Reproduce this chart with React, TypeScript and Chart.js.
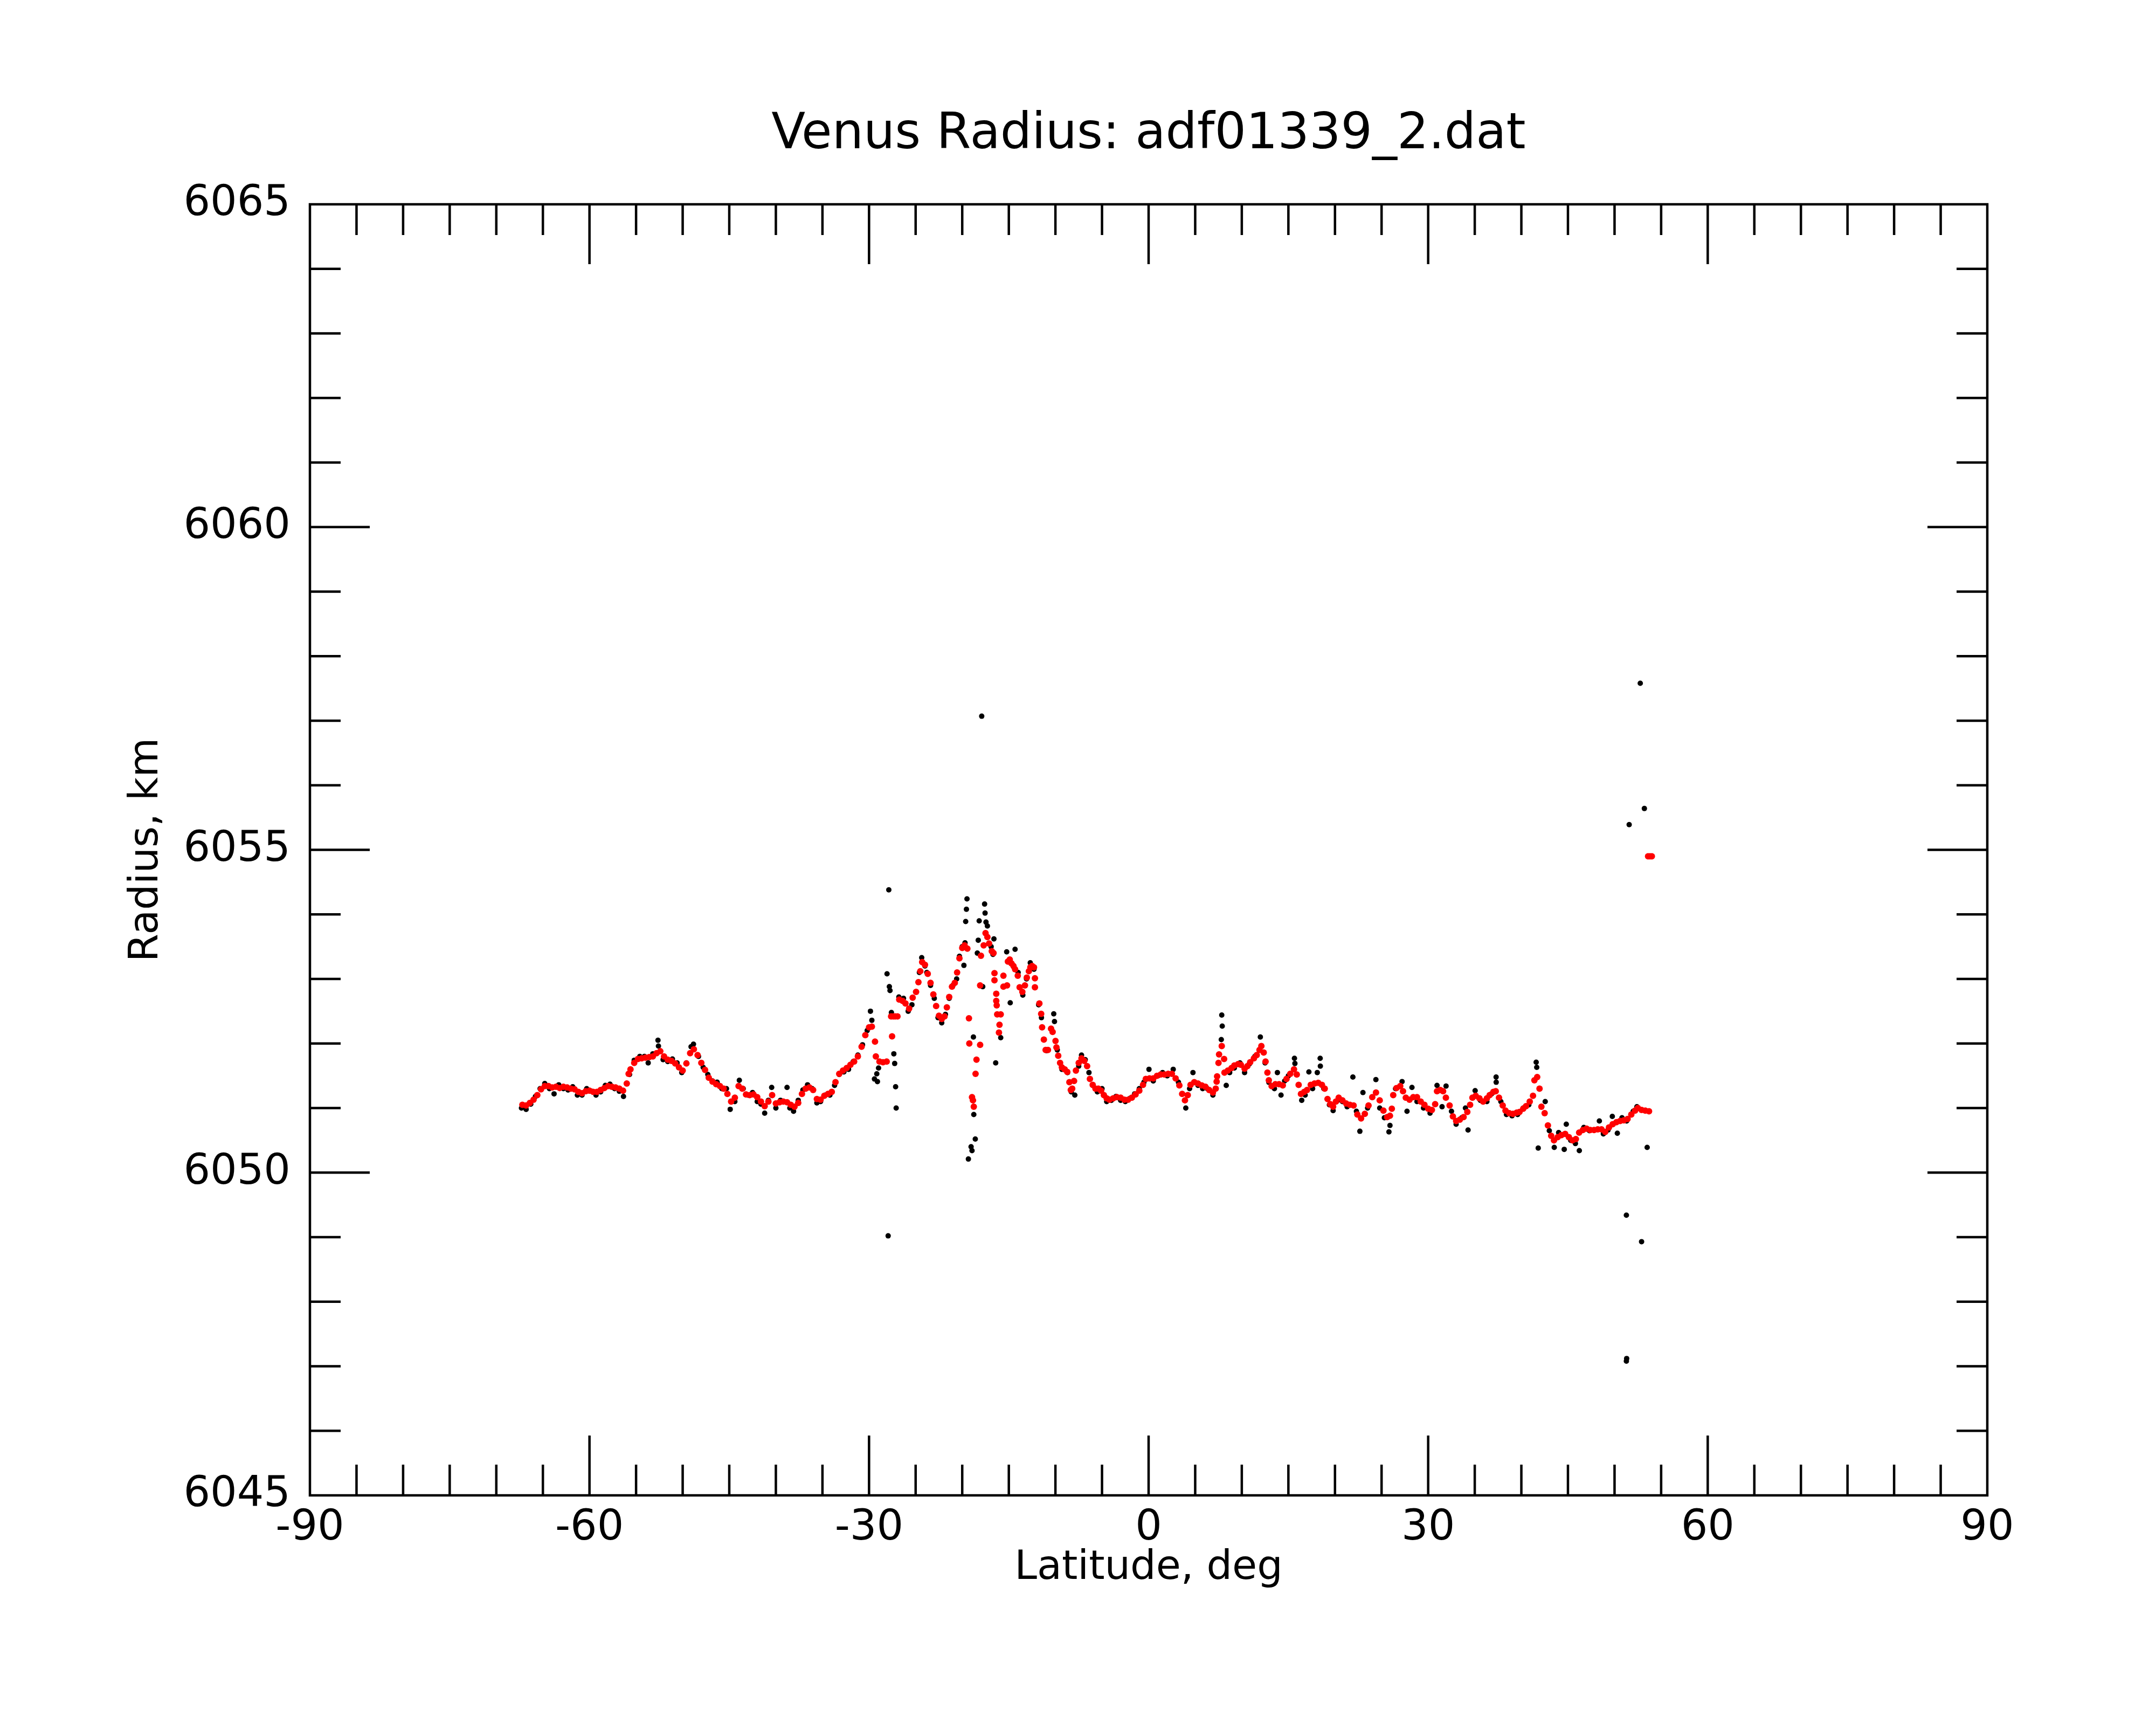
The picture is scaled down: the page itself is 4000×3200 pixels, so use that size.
import { useEffect, useRef } from "react";
import { Chart, registerables } from "chart.js";

Chart.register(...registerables);

// tick values (major), minor spacing
const xTickValues = [-90, -60, -30, 0, 30, 60, 90];
const yTickValues = [6045, 6050, 6055, 6060, 6065];
const xMinorStep = 5;
const yMinorStep = 1;

// smoothed profile (red), [latitude deg, radius km]
const redSouth: [number, number][] = [
  [-67.2, 6051.05], [-66.8, 6051.04], [-66.4, 6051.08], [-66.0, 6051.13], [-65.6, 6051.2], [-65.2, 6051.29],
  [-64.8, 6051.34], [-64.4, 6051.34], [-64.0, 6051.32], [-63.6, 6051.33], [-63.2, 6051.31], [-62.8, 6051.33],
  [-62.4, 6051.32], [-62.0, 6051.3], [-61.6, 6051.29], [-61.2, 6051.25], [-60.8, 6051.23], [-60.4, 6051.26],
  [-60.0, 6051.27], [-59.6, 6051.25], [-59.2, 6051.25], [-58.8, 6051.28], [-58.4, 6051.31], [-58.0, 6051.34],
  [-57.6, 6051.33], [-57.2, 6051.32], [-56.8, 6051.3], [-56.4, 6051.27], [-56.0, 6051.38], [-55.8, 6051.53],
  [-55.6, 6051.6], [-55.2, 6051.7], [-54.8, 6051.76], [-54.4, 6051.77], [-54.0, 6051.78], [-53.6, 6051.79],
  [-53.2, 6051.8], [-52.8, 6051.85], [-52.4, 6051.88], [-52.0, 6051.8], [-51.6, 6051.75], [-51.2, 6051.73],
  [-50.8, 6051.69], [-50.4, 6051.63], [-50.0, 6051.58], [-49.6, 6051.69], [-49.2, 6051.85], [-48.8, 6051.91],
  [-48.4, 6051.82], [-48.0, 6051.7], [-47.6, 6051.59], [-47.2, 6051.47], [-46.8, 6051.41], [-46.4, 6051.37],
  [-46.0, 6051.34], [-45.6, 6051.3], [-45.2, 6051.22], [-44.8, 6051.1], [-44.4, 6051.16], [-44.0, 6051.34],
  [-43.6, 6051.3], [-43.2, 6051.21], [-42.8, 6051.2], [-42.4, 6051.21], [-42.0, 6051.17], [-41.6, 6051.1],
  [-41.2, 6051.03], [-40.8, 6051.1], [-40.4, 6051.2], [-40.0, 6051.07], [-39.6, 6051.09], [-39.2, 6051.1],
  [-38.8, 6051.09], [-38.4, 6051.05], [-38.0, 6051.02], [-37.6, 6051.08], [-37.2, 6051.22], [-36.8, 6051.3],
  [-36.4, 6051.32], [-36.0, 6051.28], [-35.6, 6051.14], [-35.2, 6051.13], [-34.8, 6051.19], [-34.4, 6051.22],
  [-34.0, 6051.25], [-33.6, 6051.4], [-33.2, 6051.53], [-32.8, 6051.58], [-32.4, 6051.62], [-32.0, 6051.67],
  [-31.6, 6051.72], [-31.2, 6051.8], [-30.8, 6051.95], [-30.4, 6052.13], [-30.0, 6052.25], [-29.7, 6052.26],
];

const redPeak: [number, number][] = [
  [-29.36, 6052.03], [-29.27, 6051.8], [-28.88, 6051.72], [-28.5, 6051.71], [-28.11, 6051.72], [-27.53, 6052.11],
  [-27.63, 6052.42], [-27.4, 6052.42], [-27.2, 6052.42], [-26.95, 6052.42], [-26.76, 6052.68], [-26.4, 6052.66],
  [-26.09, 6052.62], [-25.7, 6052.54], [-25.32, 6052.71], [-24.95, 6052.8], [-24.7, 6052.95], [-24.5, 6053.12],
  [-24.3, 6053.26], [-24.0, 6053.22], [-23.7, 6053.08], [-23.4, 6052.94], [-23.1, 6052.76], [-22.8, 6052.58],
  [-22.5, 6052.43], [-22.2, 6052.38], [-21.9, 6052.42], [-21.65, 6052.56], [-21.4, 6052.72], [-21.1, 6052.88],
  [-20.8, 6052.94], [-20.55, 6053.1], [-20.3, 6053.32], [-20.0, 6053.48], [-19.75, 6053.52], [-19.45, 6053.47],
  [-19.28, 6052.39], [-19.24, 6052.0], [-18.95, 6051.17], [-18.85, 6051.12], [-18.76, 6051.02], [-18.57, 6051.53],
  [-18.47, 6051.75], [-18.08, 6051.98], [-18.08, 6052.9], [-17.99, 6053.36], [-17.7, 6053.52], [-17.5, 6053.71],
  [-17.3, 6053.65], [-17.12, 6053.55], [-16.83, 6053.43], [-16.64, 6053.4], [-16.54, 6053.09], [-16.54, 6052.98],
  [-16.35, 6052.77], [-16.35, 6052.66], [-16.3, 6052.59], [-16.25, 6052.45], [-15.87, 6052.45], [-16.0, 6052.29],
  [-16.06, 6052.17], [-15.58, 6052.88], [-15.19, 6052.9], [-15.58, 6053.05], [-15.1, 6053.27], [-14.9, 6053.3],
  [-14.71, 6053.24], [-14.5, 6053.2], [-14.33, 6053.15], [-14.04, 6053.05], [-13.84, 6052.87], [-13.55, 6052.8],
  [-13.27, 6052.9], [-13.07, 6053.02], [-12.85, 6053.12], [-12.69, 6053.18], [-12.5, 6053.2], [-12.3, 6053.18],
  [-12.2, 6053.01], [-12.2, 6052.87], [-11.72, 6052.62], [-11.53, 6052.46], [-11.43, 6052.25], [-11.24, 6052.06],
  [-11.05, 6051.9], [-10.8, 6051.9], [-10.47, 6052.23], [-10.3, 6052.18], [-9.99, 6052.04], [-9.89, 6051.94],
  [-9.7, 6051.81], [-9.5, 6051.7], [-9.31, 6051.63], [-9.0, 6051.6], [-8.73, 6051.56], [-8.5, 6051.4],
  [-8.35, 6051.28],
];

const redEquator: [number, number][] = [
  [-8.2, 6051.3], [-8.0, 6051.42], [-7.8, 6051.58], [-7.5, 6051.7], [-7.2, 6051.77], [-6.9, 6051.73],
  [-6.6, 6051.65], [-6.3, 6051.45], [-6.0, 6051.36], [-5.7, 6051.3], [-5.4, 6051.3], [-5.1, 6051.27],
  [-4.8, 6051.2], [-4.5, 6051.15], [-4.2, 6051.13], [-3.8, 6051.15], [-3.4, 6051.17], [-3.0, 6051.16],
  [-2.6, 6051.13], [-2.2, 6051.13], [-1.8, 6051.16], [-1.4, 6051.21], [-1.0, 6051.27], [-0.6, 6051.36],
  [-0.3, 6051.45], [0.1, 6051.46], [0.5, 6051.46], [0.9, 6051.5], [1.3, 6051.52], [1.7, 6051.52],
  [2.1, 6051.53], [2.5, 6051.53], [2.9, 6051.46], [3.3, 6051.35], [3.6, 6051.22], [3.9, 6051.12],
  [4.2, 6051.2], [4.5, 6051.36], [4.9, 6051.4], [5.3, 6051.38], [5.7, 6051.35], [6.1, 6051.33],
  [6.5, 6051.28], [6.9, 6051.24], [7.2, 6051.3], [7.3, 6051.41], [7.35, 6051.49], [7.5, 6051.7],
  [7.56, 6051.83], [7.85, 6051.96], [8.1, 6051.76], [8.14, 6051.55], [8.5, 6051.58], [8.9, 6051.62],
  [9.2, 6051.66], [9.6, 6051.68], [9.9, 6051.67], [10.3, 6051.61], [10.6, 6051.65], [10.9, 6051.71],
  [11.3, 6051.77], [11.6, 6051.82], [11.9, 6051.9], [12.1, 6051.96], [12.35, 6051.86], [12.55, 6051.72],
  [12.75, 6051.55], [12.9, 6051.43], [13.2, 6051.34], [13.6, 6051.37], [14.0, 6051.37], [14.4, 6051.35],
  [14.8, 6051.45], [15.2, 6051.53], [15.6, 6051.6], [15.9, 6051.52], [16.1, 6051.36], [16.35, 6051.22],
  [16.7, 6051.25], [17.0, 6051.28], [17.4, 6051.36], [17.8, 6051.38], [18.2, 6051.39], [18.6, 6051.36],
  [18.9, 6051.3], [19.2, 6051.14], [19.5, 6051.06], [19.8, 6051.02], [20.1, 6051.1], [20.4, 6051.16],
  [20.8, 6051.12], [21.2, 6051.07], [21.6, 6051.05], [22.0, 6051.04],
];

const redNorth: [number, number][] = [
  [22.4, 6050.9], [22.8, 6050.84], [23.2, 6050.91], [23.6, 6051.04], [24.0, 6051.17], [24.4, 6051.24],
  [24.8, 6051.12], [25.2, 6050.96], [25.6, 6050.86], [25.9, 6050.88], [26.1, 6050.99], [26.25, 6051.2],
  [26.6, 6051.31], [27.0, 6051.34], [27.3, 6051.26], [27.6, 6051.16], [28.0, 6051.13], [28.4, 6051.17],
  [28.8, 6051.17], [29.2, 6051.1], [29.6, 6051.05], [30.0, 6050.99], [30.4, 6050.97], [30.75, 6051.06],
  [30.95, 6051.26], [31.3, 6051.28], [31.6, 6051.26], [31.9, 6051.16], [32.3, 6051.04], [32.65, 6050.87],
  [33.0, 6050.8], [33.4, 6050.82], [33.8, 6050.86], [34.2, 6050.94], [34.5, 6051.05], [34.75, 6051.16],
  [35.1, 6051.19], [35.5, 6051.15], [35.9, 6051.1], [36.3, 6051.15], [36.6, 6051.2], [37.0, 6051.25],
  [37.25, 6051.26], [37.6, 6051.16], [38.0, 6051.04], [38.3, 6050.96], [38.7, 6050.92], [39.1, 6050.91],
  [39.5, 6050.93], [39.8, 6050.94], [40.2, 6050.99], [40.5, 6051.03], [40.9, 6051.1], [41.25, 6051.19],
  [41.4, 6051.43], [41.7, 6051.48], [41.95, 6051.3], [42.15, 6051.02], [42.5, 6050.92], [42.85, 6050.73],
  [43.2, 6050.57], [43.5, 6050.5], [43.9, 6050.55], [44.3, 6050.58], [44.7, 6050.6], [45.1, 6050.55],
  [45.5, 6050.5], [45.85, 6050.52], [46.2, 6050.62], [46.6, 6050.66], [47.0, 6050.68], [47.4, 6050.66],
  [47.8, 6050.66], [48.2, 6050.67], [48.6, 6050.67], [49.0, 6050.63], [49.4, 6050.7], [49.8, 6050.75],
  [50.2, 6050.78], [50.6, 6050.8], [51.0, 6050.81], [51.4, 6050.83], [51.8, 6050.9], [52.2, 6050.96],
  [52.5, 6051.0], [52.9, 6050.97], [53.3, 6050.96], [53.7, 6050.95],
];

const redHigh: [number, number][] = [[53.6, 6054.9], [53.8, 6054.9], [54.0, 6054.9]];

// raw samples (black)
const blackTrack: [number, number][] = [
  [-67.3, 6051.0], [-66.8, 6050.98], [-66.3, 6051.06], [-65.8, 6051.18], [-65.3, 6051.3], [-64.8, 6051.38],
  [-64.3, 6051.3], [-63.8, 6051.22], [-63.3, 6051.36], [-62.8, 6051.3], [-62.3, 6051.28], [-61.8, 6051.33],
  [-61.3, 6051.2], [-60.8, 6051.2], [-60.3, 6051.3], [-59.8, 6051.26], [-59.3, 6051.2], [-58.8, 6051.25],
  [-58.3, 6051.35], [-57.8, 6051.37], [-57.3, 6051.3], [-56.8, 6051.26], [-56.35, 6051.18], [-55.7, 6051.52],
  [-55.2, 6051.74], [-54.6, 6051.8], [-54.1, 6051.8], [-53.7, 6051.7], [-53.2, 6051.84], [-52.65, 6052.05],
  [-52.6, 6051.96], [-52.1, 6051.75], [-51.6, 6051.72], [-51.1, 6051.76], [-50.6, 6051.7], [-50.1, 6051.55],
  [-49.6, 6051.7], [-49.1, 6051.95], [-48.84, 6051.99], [-48.3, 6051.8], [-47.8, 6051.63], [-47.3, 6051.52],
  [-46.8, 6051.42], [-46.3, 6051.4], [-45.8, 6051.3], [-45.3, 6051.3], [-44.9, 6050.98], [-44.4, 6051.1],
  [-43.92, 6051.43], [-43.5, 6051.3], [-43.0, 6051.2], [-42.5, 6051.24], [-42.0, 6051.1], [-41.6, 6051.06],
  [-41.2, 6050.92], [-40.8, 6051.12], [-40.45, 6051.32], [-40.0, 6051.0], [-39.5, 6051.12], [-38.8, 6051.32],
  [-38.5, 6051.0], [-38.1, 6050.95], [-37.6, 6051.12], [-37.1, 6051.28], [-36.6, 6051.36], [-36.1, 6051.3],
  [-35.6, 6051.08], [-35.2, 6051.1], [-34.7, 6051.2], [-34.2, 6051.2], [-33.7, 6051.35], [-33.2, 6051.52],
  [-32.7, 6051.56], [-32.2, 6051.6], [-31.7, 6051.72], [-31.2, 6051.82], [-30.7, 6051.98], [-30.2, 6052.2],
  [-29.85, 6052.5], [-29.7, 6052.36],
  [-26.8, 6052.72], [-26.3, 6052.7], [-25.8, 6052.5], [-25.4, 6052.6], [-25.0, 6052.8], [-24.6, 6053.1],
  [-24.35, 6053.33], [-24.0, 6053.2], [-23.8, 6053.1], [-23.4, 6052.9], [-23.0, 6052.7], [-22.6, 6052.4],
  [-22.2, 6052.32], [-21.8, 6052.45], [-21.4, 6052.7], [-21.0, 6052.9], [-20.6, 6053.0], [-20.3, 6053.35],
  [-20.0, 6053.5], [-19.7, 6053.56], [-16.9, 6053.5], [-16.7, 6053.38], [-14.0, 6053.1], [-13.5, 6052.75],
  [-13.1, 6053.0], [-12.7, 6053.25], [-12.3, 6053.15], [-11.8, 6052.6], [-11.5, 6052.4], [-9.8, 6051.9],
  [-9.3, 6051.6], [-8.7, 6051.55], [-8.3, 6051.25],
  [-7.92, 6051.2], [-7.5, 6051.65], [-7.2, 6051.82], [-6.8, 6051.75], [-6.4, 6051.55], [-6.0, 6051.35],
  [-5.5, 6051.25], [-5.0, 6051.3], [-4.5, 6051.1], [-4.0, 6051.12], [-3.5, 6051.18], [-3.0, 6051.12],
  [-2.5, 6051.1], [-2.0, 6051.15], [-1.5, 6051.22], [-1.0, 6051.3], [-0.5, 6051.4], [0.04, 6051.6],
  [0.5, 6051.42], [1.0, 6051.5], [1.5, 6051.55], [2.0, 6051.5], [2.64, 6051.6], [3.2, 6051.4],
  [3.99, 6051.0], [4.4, 6051.3], [4.76, 6051.55], [5.3, 6051.35], [5.8, 6051.3], [6.3, 6051.3],
  [6.9, 6051.2], [8.33, 6051.35], [8.7, 6051.55], [9.2, 6051.62], [9.8, 6051.7], [10.3, 6051.55],
  [10.8, 6051.68], [11.4, 6051.8], [11.99, 6052.1], [12.5, 6051.7], [12.9, 6051.4], [13.5, 6051.3],
  [13.82, 6051.55], [14.21, 6051.2], [14.6, 6051.42], [15.0, 6051.5], [15.65, 6051.77], [15.7, 6051.69],
  [16.43, 6051.12], [16.8, 6051.2], [17.2, 6051.56], [17.6, 6051.3], [18.1, 6051.55], [18.41, 6051.77],
  [18.43, 6051.65], [18.8, 6051.3], [19.4, 6051.05], [19.8, 6050.96], [20.3, 6051.12], [20.8, 6051.1],
  [21.3, 6051.02], [21.92, 6051.48], [22.3, 6050.95], [22.67, 6050.64], [23.0, 6051.24], [23.5, 6051.0],
  [24.39, 6051.44], [24.8, 6051.0], [25.3, 6050.85], [25.79, 6050.63], [25.9, 6050.73], [26.5, 6051.3],
  [27.2, 6051.41], [27.73, 6050.95], [28.26, 6051.32], [28.8, 6051.1], [29.5, 6051.0], [30.2, 6050.92],
  [30.95, 6051.35], [31.49, 6051.02], [31.92, 6051.34], [32.5, 6050.95], [33.0, 6050.75], [33.6, 6050.85],
  [34.0, 6051.0], [34.28, 6050.66], [35.04, 6051.27], [35.6, 6051.12], [36.3, 6051.1], [36.8, 6051.22],
  [37.29, 6051.48], [37.3, 6051.4], [37.8, 6051.1], [38.4, 6050.9], [39.0, 6050.88], [39.6, 6050.9],
  [40.2, 6051.0], [40.8, 6051.05], [41.59, 6051.71], [41.65, 6051.63], [42.56, 6051.1], [43.0, 6050.65],
  [43.53, 6050.39], [44.0, 6050.62], [44.6, 6050.36], [44.82, 6050.75], [45.3, 6050.5], [45.8, 6050.45],
  [46.22, 6050.34], [46.7, 6050.7], [47.3, 6050.65], [48.37, 6050.8], [48.8, 6050.6], [49.3, 6050.66],
  [49.76, 6050.87], [50.3, 6050.61], [50.8, 6050.85], [51.3, 6050.8], [52.0, 6050.95], [52.4, 6051.02],
];

const blackOutliers: [number, number][] = [
  [-29.42, 6051.45], [-29.17, 6051.53], [-29.1, 6051.41], [-28.98, 6051.62], [-28.07, 6053.08], [-27.82, 6052.88],
  [-27.75, 6052.82], [-27.6, 6052.48], [-27.88, 6054.38], [-27.95, 6049.02], [-27.34, 6051.84], [-27.25, 6051.69],
  [-27.15, 6051.33], [-27.09, 6051.0], [-19.82, 6053.21], [-19.49, 6054.24], [-19.55, 6054.08], [-19.63, 6053.89],
  [-18.18, 6053.9], [-18.28, 6053.6], [-18.38, 6053.4], [-17.6, 6054.16], [-17.55, 6054.02], [-17.45, 6053.88],
  [-17.3, 6053.82], [-16.6, 6053.62], [-17.91, 6057.07], [-17.8, 6052.88], [-18.8, 6052.1], [-18.76, 6050.9],
  [-18.6, 6050.52], [-19.05, 6050.4], [-18.95, 6050.34], [-19.34, 6050.21], [-16.41, 6051.7], [-15.87, 6052.09],
  [-15.23, 6053.42], [-14.85, 6052.63], [-14.33, 6053.46], [-10.95, 6051.89], [-10.18, 6052.46], [-10.1, 6052.34],
  [7.8, 6052.06], [7.85, 6052.44], [7.9, 6052.27], [41.81, 6050.38], [51.27, 6049.34], [51.27, 6047.08],
  [51.3, 6047.12], [51.57, 6055.39], [52.76, 6057.58], [52.9, 6048.93], [53.2, 6055.64], [53.5, 6050.39],
];

const FONT = "'DejaVu Sans', sans-serif";
const MAJOR_TICK = 111;
const MINOR_TICK = 57;

const toPoints = (rows: [number, number][]) => rows.map(([x, y]) => ({ x, y }));

// box with inward ticks on all four sides
const framePlugin = {
  id: "frame",
  afterDatasetsDraw(chart: any) {
    const { ctx, chartArea: a, scales } = chart;
    const xs = scales.x;
    const ys = scales.y;
    ctx.save();
    ctx.strokeStyle = "#000";
    ctx.lineWidth = 4.5;
    ctx.lineCap = "butt";
    ctx.strokeRect(a.left, a.top, a.right - a.left, a.bottom - a.top);
    ctx.beginPath();
    for (let v = xs.min + xMinorStep; v < xs.max; v += xMinorStep) {
      const px = xs.getPixelForValue(v);
      const len = xTickValues.includes(v) ? MAJOR_TICK : MINOR_TICK;
      ctx.moveTo(px, a.top);
      ctx.lineTo(px, a.top + len);
      ctx.moveTo(px, a.bottom);
      ctx.lineTo(px, a.bottom - len);
    }
    for (let v = ys.min + yMinorStep; v < ys.max; v += yMinorStep) {
      const py = ys.getPixelForValue(v);
      const len = yTickValues.includes(v) ? MAJOR_TICK : MINOR_TICK;
      ctx.moveTo(a.left, py);
      ctx.lineTo(a.left + len, py);
      ctx.moveTo(a.right, py);
      ctx.lineTo(a.right - len, py);
    }
    ctx.stroke();
    ctx.restore();
  },
};

export default function App() {
  const canvasRef = useRef<HTMLCanvasElement | null>(null);

  useEffect(() => {
    if (!canvasRef.current) return;
    const ctx = canvasRef.current.getContext("2d");
    if (!ctx) return;

    const tickFont = { family: FONT, size: 78 };
    const axisTitleFont = { family: FONT, size: 75 };

    const chart = new Chart(ctx, {
      type: "scatter",
      data: {
        datasets: [
          {
            label: "smoothed",
            data: toPoints([...redSouth, ...redPeak, ...redEquator, ...redNorth, ...redHigh]),
            backgroundColor: "#ff0000",
            pointRadius: 6,
            pointBorderWidth: 0,
            order: 0,
          },
          {
            label: "raw",
            data: toPoints([...blackTrack, ...blackOutliers]),
            backgroundColor: "#000000",
            pointRadius: 5,
            pointBorderWidth: 0,
            order: 1,
          },
        ],
      },
      options: {
        responsive: false,
        devicePixelRatio: 1,
        animation: false,
        layout: { padding: { left: 228, right: 313, top: 0, bottom: 245 } },
        plugins: {
          legend: { display: false },
          tooltip: { enabled: false },
          title: {
            display: true,
            text: "Venus Radius: adf01339_2.dat",
            fullSize: false,
            color: "#000",
            font: { family: FONT, size: 92, weight: "normal" },
            padding: { top: 196, bottom: 72.6 },
          },
        },
        scales: {
          x: {
            type: "linear",
            min: -90,
            max: 90,
            afterBuildTicks: (s: any) => {
              s.ticks = xTickValues.map((value) => ({ value }));
            },
            afterFit: (s: any) => {
              s.height = 181;
            },
            grid: { display: false },
            border: { display: false },
            ticks: {
              color: "#000",
              font: tickFont,
              padding: 7,
              maxRotation: 0,
              autoSkip: false,
              callback: (v: any) => String(v),
            },
            title: { display: true, text: "Latitude, deg", color: "#000", font: axisTitleFont, padding: 0 },
          },
          y: {
            type: "linear",
            min: 6045,
            max: 6065,
            afterBuildTicks: (s: any) => {
              s.ticks = yTickValues.map((value) => ({ value }));
            },
            afterFit: (s: any) => {
              s.width = 347;
            },
            grid: { display: false },
            border: { display: false },
            ticks: {
              color: "#000",
              font: tickFont,
              padding: 28,
              autoSkip: false,
              callback: (v: any) => String(v),
            },
            title: { display: true, text: "Radius, km", color: "#000", font: axisTitleFont, padding: 0 },
          },
        },
      },
      plugins: [framePlugin],
    });

    return () => chart.destroy();
  }, []);

  return (
    <div style={{ position: "absolute", left: 0, top: 0, width: 4000, height: 3200, background: "#fff" }}>
      <canvas ref={canvasRef} width={4000} height={3200} style={{ display: "block" }} />
    </div>
  );
}
